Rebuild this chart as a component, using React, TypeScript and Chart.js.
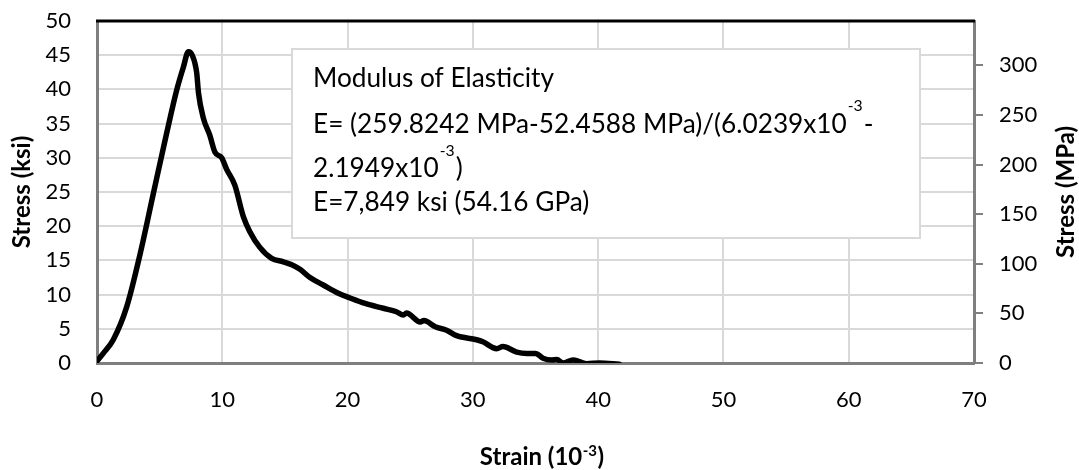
import React, { useEffect, useRef } from "react";
import { Chart, registerables } from "chart.js";

Chart.register(...registerables);

// ---- data ----
const strain = [
  0, 0.5, 1.3, 2.37, 3.45, 4.5, 5.56, 6.36, 6.9, 7.29, 7.6, 7.96, 8.1, 8.49, 9.0, 9.42, 9.95,
  10.35, 11.0, 11.68, 12.2, 13.0, 13.94, 14.87, 15.5, 16.2, 17.0, 18.06, 19.26, 20.2, 21.4,
  22.85, 23.9, 24.45, 24.7, 25.8, 26.1, 27.0, 27.9, 28.7, 30.3, 30.8, 31.9, 32.4, 33.5, 34.3,
  35.0, 35.6, 36.3, 36.7, 37.2, 38.0, 38.5, 39.1, 40.1, 41.7,
];
const stressKsi = [
  0.3, 1.4, 3.4, 8.2, 16.0, 24.8, 33.6, 39.9, 43.3, 45.5, 45.0, 42.4, 39.5, 35.8, 33.3, 30.8, 30.0,
  28.3, 26.0, 21.4, 19.2, 16.9, 15.3, 14.8, 14.4, 13.7, 12.5, 11.4, 10.2, 9.5, 8.7,
  8.0, 7.5, 7.0, 7.3, 6.0, 6.2, 5.3, 4.8, 4.0, 3.4, 3.1, 2.1, 2.4, 1.6, 1.4,
  1.4, 0.7, 0.45, 0.5, 0.0, 0.45, 0.2, -0.1, 0.0, -0.2,
];
const xTicks = [0, 10, 20, 30, 40, 50, 60, 70];
const ksiTicks = [0, 5, 10, 15, 20, 25, 30, 35, 40, 45, 50];
const mpaTicks = [0, 50, 100, 150, 200, 250, 300];
const KSI_TO_MPA = 6.894757;

const xTitle = ["Strain (10", "-3", ")"];
const yTitle = "Stress (ksi)";
const y2Title = "Stress (MPa)";
const noteLines: { t: string; sup?: boolean }[][] = [
  [{ t: "Modulus of Elasticity" }],
  [{ t: "E= (259.8242 MPa-52.4588 MPa)/(6.0239x10" }, { t: "-3", sup: true }, { t: "-" }],
  [{ t: "2.1949x10" }, { t: "-3", sup: true }, { t: ")" }],
  [{ t: "E=7,849 ksi (54.16 GPa)" }],
];

const FONT = "Lato, 'Open Sans', 'DejaVu Sans', sans-serif";

const decor = {
  id: "decor",
  beforeDatasetsDraw(chart: any) {
    const { ctx, chartArea: a } = chart;
    ctx.save();
    // top frame line
    ctx.strokeStyle = "#000";
    ctx.lineWidth = 3;
    ctx.beginPath();
    ctx.moveTo(a.left - 1, a.top);
    ctx.lineTo(a.right + 1, a.top);
    ctx.stroke();

    // annotation box
    const bx = 292, by = 49, bw = 628, bh = 189;
    ctx.fillStyle = "#fff";
    ctx.fillRect(bx, by, bw, bh);
    ctx.strokeStyle = "#d9d9d9";
    ctx.lineWidth = 2;
    ctx.strokeRect(bx, by, bw, bh);

    ctx.font = `24px ${FONT}`;
    const w = ctx.measureText(noteLines[1][0].t).width;
    const size = (24 * 534) / w;
    const supSize = size * 0.6;
    const baselines = [87, 133, 177, 211];
    const supRaise = [0, 22, 21, 0];
    ctx.fillStyle = "#000";
    ctx.textBaseline = "alphabetic";
    ctx.textAlign = "left";
    noteLines.forEach((line, i) => {
      let x = 313;
      line.forEach((seg) => {
        if (seg.sup) {
          ctx.font = `${supSize}px ${FONT}`;
          ctx.fillText(seg.t, x + 1, baselines[i] - supRaise[i]);
          x += ctx.measureText(seg.t).width + 2;
        } else {
          ctx.font = `${size}px ${FONT}`;
          ctx.fillText(seg.t, x, baselines[i]);
          x += ctx.measureText(seg.t).width;
        }
      });
    });
    ctx.restore();
  },
  afterDraw(chart: any) {
    const { ctx, chartArea: a } = chart;
    ctx.save();
    ctx.fillStyle = "#000";
    ctx.textBaseline = "middle";
    ctx.textAlign = "center";
    const cy = (a.top + a.bottom) / 2;
    ctx.font = `bold 24px ${FONT}`;
    ctx.save();
    ctx.translate(22, cy);
    ctx.rotate(-Math.PI / 2);
    ctx.fillText(yTitle, 0, 0);
    ctx.restore();
    ctx.save();
    ctx.translate(1066, cy);
    ctx.rotate(-Math.PI / 2);
    ctx.fillText(y2Title, 0, 0);
    ctx.restore();
    ctx.textAlign = "left";
    ctx.textBaseline = "alphabetic";
    const big = `bold 24px ${FONT}`;
    const small = `bold 15px ${FONT}`;
    ctx.font = big;
    const w0 = ctx.measureText(xTitle[0]).width;
    const w2 = ctx.measureText(xTitle[2]).width;
    ctx.font = small;
    const w1 = ctx.measureText(xTitle[1]).width;
    const total = w0 + w1 + w2 + 1;
    let x = 542 - total / 2;
    const base = 465;
    ctx.font = big;
    ctx.fillText(xTitle[0], x, base);
    x += w0;
    ctx.font = small;
    ctx.fillText(xTitle[1], x + 0.5, base - 9);
    x += w1 + 1;
    ctx.font = big;
    ctx.fillText(xTitle[2], x, base);
    ctx.restore();
  },
};

export default function App() {
  const ref = useRef<HTMLCanvasElement | null>(null);
  useEffect(() => {
    if (!ref.current) return;
    const tickFont = { family: FONT, size: 22 };
    const chart = new Chart(ref.current, {
      type: "line",
      data: {
        datasets: [
          {
            data: strain.map((x, i) => ({ x, y: stressKsi[i] })),
            borderColor: "#000",
            borderWidth: 5.5,
            pointRadius: 0,
            fill: false,
            cubicInterpolationMode: "monotone",
            borderCapStyle: "round",
            borderJoinStyle: "round",
            yAxisID: "y",
          },
        ],
      },
      options: {
        responsive: false,
        animation: false,
        events: [],
        layout: { padding: { top: 21, left: 0, right: 0, bottom: 0 } },
        plugins: { legend: { display: false }, tooltip: { enabled: false } },
        scales: {
          x: {
            type: "linear",
            position: "bottom",
            min: 0,
            max: 70,
            afterFit: (s: any) => {
              s.height = 107;
              s.paddingLeft = 0;
              s.paddingRight = 0;
              s.paddingTop = 0;
              s.paddingBottom = 0;
            },
            afterBuildTicks: (s: any) => {
              s.ticks = xTicks.map((v) => ({ value: v }));
            },
            grid: { color: "#d9d9d9", lineWidth: 2, drawTicks: false },
            border: { color: "#7f7f7f", width: 3 },
            ticks: { padding: 24, color: "#000", font: tickFont, maxRotation: 0, autoSkip: false },
          },
          y: {
            type: "linear",
            position: "left",
            min: 0,
            max: 50,
            afterFit: (s: any) => {
              s.width = 97;
              s.paddingTop = 0;
              s.paddingBottom = 0;
              s.paddingLeft = 0;
              s.paddingRight = 0;
            },
            afterBuildTicks: (s: any) => {
              s.ticks = ksiTicks.map((v) => ({ value: v }));
            },
            grid: { color: "#d9d9d9", lineWidth: 2, drawTicks: false },
            border: { color: "#7f7f7f", width: 3 },
            ticks: { padding: 26, color: "#000", font: tickFont, autoSkip: false },
          },
          y2: {
            type: "linear",
            position: "right",
            min: 0,
            max: 50 * KSI_TO_MPA,
            afterFit: (s: any) => {
              s.width = 105;
              s.paddingTop = 0;
              s.paddingBottom = 0;
              s.paddingLeft = 0;
              s.paddingRight = 0;
            },
            afterBuildTicks: (s: any) => {
              s.ticks = mpaTicks.map((v) => ({ value: v }));
            },
            grid: { drawOnChartArea: false, drawTicks: true, tickLength: 9, color: "#7f7f7f", lineWidth: 2 },
            border: { color: "#7f7f7f", width: 3 },
            ticks: { padding: 16, color: "#000", font: tickFont, autoSkip: false },
          },
        },
      },
      plugins: [decor],
    } as any);
    return () => chart.destroy();
  }, []);
  return (
    <div style={{ position: "fixed", left: 0, top: 0, width: 1079, height: 470, background: "#fff" }}>
      <canvas ref={ref} width={1079} height={470} style={{ width: 1079, height: 470, display: "block" }} />
    </div>
  );
}
